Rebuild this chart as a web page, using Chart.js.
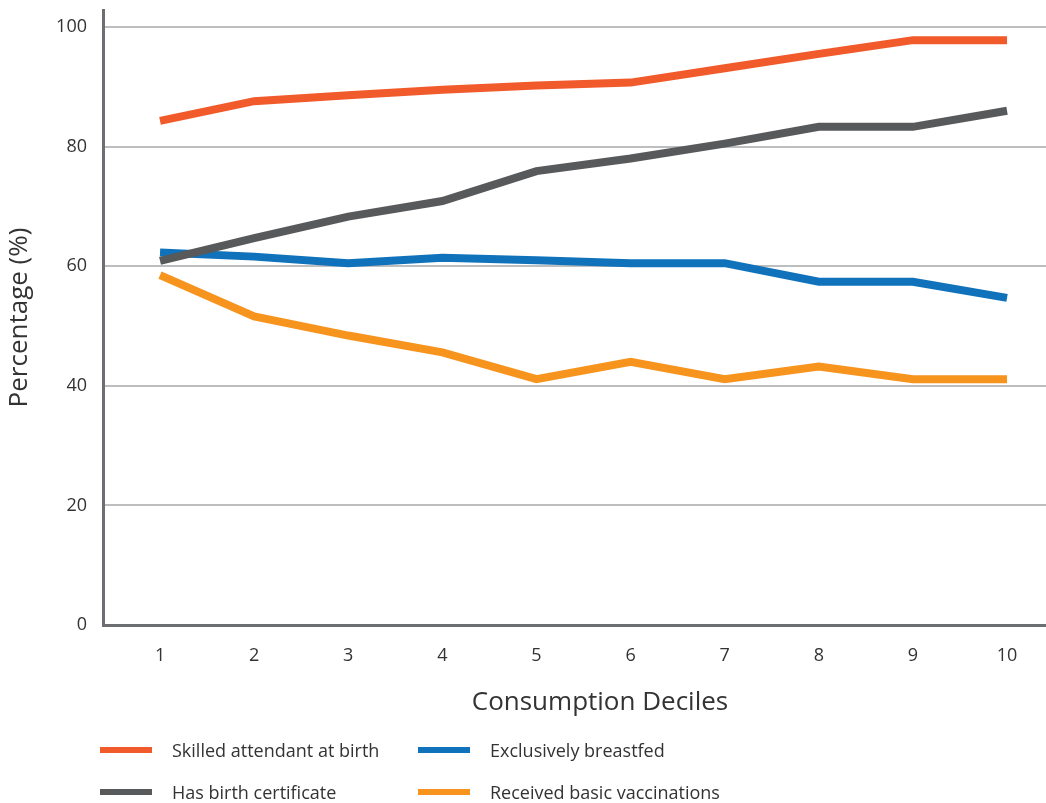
<!DOCTYPE html>
<html>
<head>
<meta charset="utf-8">
<script src="https://cdn.jsdelivr.net/npm/chart.js@4/dist/chart.umd.min.js"></script>
<style>
  html, body { margin: 0; padding: 0; background: #fff; }
  #wrap { position: relative; width: 1046px; height: 803px; }
  #chart { position: absolute; left: 0; top: 0; }
  .legend-item { position: absolute; height: 24px; display: flex; align-items: center;
    font-family: "Open Sans", sans-serif; font-size: 18px; color: #333; white-space: nowrap; }
  .swatch { width: 52px; height: 6px; margin-right: 20px; }
</style>
</head>
<body>
<div id="wrap">
  <canvas id="chart" width="1046" height="803"></canvas>
  <div id="legend"></div>
</div>
<script>
// Consumption deciles and the share (%) of children in each
const deciles = [1, 2, 3, 4, 5, 6, 7, 8, 9, 10];
const skilledAttendant = [84.3, 87.6, 88.6, 89.5, 90.2, 90.7, 93.1, 95.5, 97.8, 97.8];
const birthCertificate = [60.9, 64.7, 68.3, 70.9, 75.9, 78.0, 80.5, 83.3, 83.3, 86.0];
const breastfed = [62.3, 61.6, 60.5, 61.4, 61.0, 60.5, 60.5, 57.4, 57.4, 54.7];
const vaccinated = [58.5, 51.6, 48.4, 45.6, 41.1, 44.0, 41.1, 43.2, 41.1, 41.1];
const yTicks = [0, 20, 40, 60, 80, 100];

const seriesNames = ["Skilled attendant at birth", "Has birth certificate", "Exclusively breastfed", "Received basic vaccinations"];
const seriesColors = ["#F15A2B", "#58595B", "#1072BA", "#F7941E"];
const seriesValues = [skilledAttendant, birthCertificate, breastfed, vaccinated];

const FONT = '"Open Sans", sans-serif';
const TEXT = '#333333';

const toPoints = vals => deciles.map((d, i) => ({ x: d, y: vals[i] }));

// x-axis title drawn centred under the deciles
const xTitlePlugin = {
  id: 'xTitle',
  afterDraw(chart) {
    const ctx = chart.ctx;
    ctx.save();
    ctx.font = '26px ' + FONT;
    ctx.fillStyle = TEXT;
    ctx.textAlign = 'center';
    ctx.textBaseline = 'middle';
    ctx.fillText('Consumption Deciles', 600, 703);
    ctx.restore();
  }
};

new Chart(document.getElementById('chart'), {
  type: 'line',
  data: {
    datasets: seriesNames.map((name, i) => ({
      label: name,
      data: toPoints(seriesValues[i]),
      borderColor: seriesColors[i],
      backgroundColor: seriesColors[i],
      borderWidth: 8,
      borderCapStyle: 'butt',
      borderJoinStyle: 'miter',
      pointRadius: 0,
      tension: 0,
      fill: false
    }))
  },
  options: {
    responsive: false,
    animation: false,
    layout: { padding: { top: 10, right: 0, left: 0, bottom: 0 } },
    plugins: { legend: { display: false }, tooltip: { enabled: false } },
    scales: {
      x: {
        type: 'linear',
        min: 0.394,
        max: 10.414,
        afterBuildTicks: s => { s.ticks = deciles.map(v => ({ value: v })); },
        afterFit: s => { s.height = 178; s.paddingLeft = 0; s.paddingRight = 0; },
        grid: { display: false, drawTicks: false },
        border: { display: true, color: '#6D6E71', width: 3 },
        ticks: { padding: 20, color: TEXT, font: { family: FONT, size: 18 }, maxRotation: 0 }
      },
      y: {
        min: 0,
        max: 102.84,
        afterBuildTicks: s => { s.ticks = yTicks.map(v => ({ value: v })); },
        afterFit: s => { s.width = 103; s.paddingTop = 0; s.paddingBottom = 0; },
        grid: { color: '#BCBEC0', lineWidth: 2, drawTicks: false },
        border: { display: true, color: '#6D6E71', width: 3 },
        ticks: { padding: 16, color: TEXT, font: { family: FONT, size: 18 } },
        title: { display: true, text: 'Percentage (%)', color: TEXT,
                 font: { family: FONT, size: 26 }, padding: { top: 4, bottom: 0 } }
      }
    }
  },
  plugins: [xTitlePlugin]
});

// Legend in two columns below the chart
const legendPos = [[100, 738], [100, 780], [418, 738], [418, 780]];
const legend = document.getElementById('legend');
seriesNames.forEach((name, i) => {
  const item = document.createElement('div');
  item.className = 'legend-item';
  item.style.left = legendPos[i][0] + 'px';
  item.style.top = legendPos[i][1] + 'px';
  const sw = document.createElement('span');
  sw.className = 'swatch';
  sw.style.background = seriesColors[i];
  const label = document.createElement('span');
  label.textContent = name;
  item.appendChild(sw);
  item.appendChild(label);
  legend.appendChild(item);
});
</script>
</body>
</html>
